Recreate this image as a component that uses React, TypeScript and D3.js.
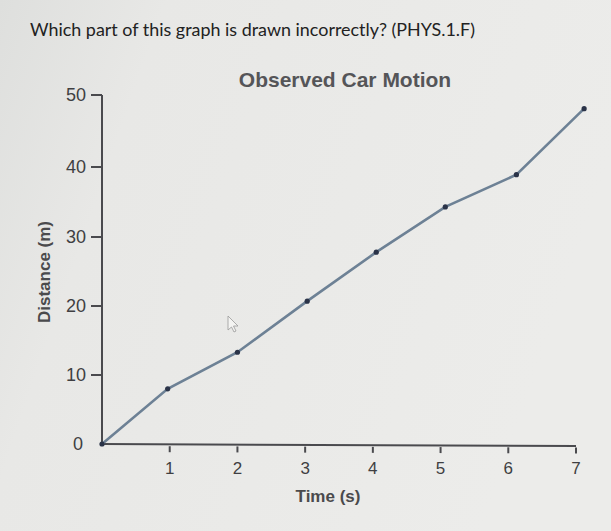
import React from "react";
import * as d3 from "d3";

const W = 611;
const H = 531;

// Data
const times = [0, 0.97, 2.0, 3.03, 4.05, 5.07, 6.12, 7.12];
const distances = [0, 8.0, 13.3, 20.7, 27.8, 34.3, 38.9, 48.1];
const xTicks = [1, 2, 3, 4, 5, 6, 7];
const yTicks = [10, 20, 30, 40, 50];
const yScaleStops = [0, 10, 20, 30, 40, 50];
const yScaleRange = [444, 375, 306, 237, 167, 95];

const questionText = "Which part of this graph is drawn incorrectly? (PHYS.1.F)";
const titleText = "Observed Car Motion";
const xLabel = "Time (s)";
const yLabel = "Distance (m)";

export default function App() {
  const x = d3.scaleLinear().domain([0, 7]).range([102, 576]);
  const y = d3.scaleLinear().domain(yScaleStops).range(yScaleRange);
  const pts = times.map((t, i) => [x(t), y(distances[i])] as [number, number]);
  const line = d3.line<[number, number]>()(pts) || "";
  const axisY = y(0);
  const axisColor = "#4a4a4e";
  const labelColor = "#3f3f42";
  const font = "'Liberation Sans', Arial, sans-serif";

  return (
    <svg
      width={W}
      height={H}
      style={{ position: "absolute", left: 0, top: 0 }}
    >
      <defs>
        <linearGradient id="bg" x1="0" y1="0" x2="1" y2="0.3">
          <stop offset="0" stopColor="#dedfdd" />
          <stop offset="0.25" stopColor="#e8e8e6" />
          <stop offset="1" stopColor="#ececea" />
        </linearGradient>
      </defs>
      <rect x={0} y={0} width={W} height={H} fill="url(#bg)" />
      <text
        x={30}
        y={36}
        fontFamily="Lato, 'Open Sans', sans-serif"
        fontSize={18}
        fill="#222"
        textLength={445}
        lengthAdjust="spacingAndGlyphs"
      >
        {questionText}
      </text>
      <text
        x={345}
        y={87}
        textAnchor="middle"
        fontFamily={font}
        fontWeight="bold"
        fontSize={21}
        fill="#555558"
      >
        {titleText}
      </text>

      {/* y axis */}
      <line x1={x(0)} x2={x(0)} y1={y(50)} y2={axisY} stroke={axisColor} strokeWidth={2} />
      {yTicks.map((t) => (
        <g key={t}>
          <line x1={x(0) - 11} x2={x(0)} y1={y(t)} y2={y(t)} stroke={axisColor} strokeWidth={2} />
          <text
            x={x(0) - 16}
            y={y(t) + 6}
            textAnchor="end"
            fontFamily={font}
            fontSize={18}
            fill={labelColor}
          >
            {t}
          </text>
        </g>
      ))}
      <text x={78} y={axisY + 6} textAnchor="middle" fontFamily={font} fontSize={18} fill={labelColor}>
        0
      </text>

      {/* x axis */}
      <line x1={x(0)} x2={x(7)} y1={axisY} y2={axisY + 2} stroke={axisColor} strokeWidth={2} />
      {xTicks.map((t) => (
        <g key={t}>
          <line
            x1={x(t)}
            x2={x(t)}
            y1={axisY + 2 + (t / 7) * 1.5}
            y2={axisY + 8 + (t / 7) * 1.5}
            stroke={axisColor}
            strokeWidth={2}
          />
          <text
            x={x(t)}
            y={axisY + 30}
            textAnchor="middle"
            fontFamily={font}
            fontSize={17}
            fill={labelColor}
          >
            {t}
          </text>
        </g>
      ))}
      <text
        x={328}
        y={502}
        textAnchor="middle"
        fontFamily={font}
        fontSize={17}
        fontWeight="bold"
        fill="#4a4a4c"
      >
        {xLabel}
      </text>
      <text
        transform={`translate(50,272) rotate(-90)`}
        textAnchor="middle"
        fontFamily={font}
        fontSize={17}
        fontWeight="bold"
        fill="#4a4a4c"
      >
        {yLabel}
      </text>

      {/* data */}
      <path d={line} fill="none" stroke="#6d8195" strokeWidth={2.6} />
      {pts.map((p, i) => (
        <circle key={i} cx={p[0]} cy={p[1]} r={2.6} fill="#2a3348" />
      ))}

      {/* mouse cursor */}
      <path
        d="M228,316 L228,330 L231.5,327 L234,332 L236,331 L233.5,326 L238,326 Z"
        fill="#f4f4f2"
        stroke="#999"
        strokeWidth={0.8}
      />
    </svg>
  );
}
